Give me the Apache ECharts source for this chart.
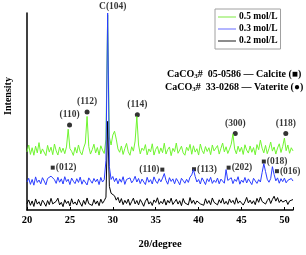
<!DOCTYPE html>
<html><head><meta charset="utf-8">
<script src="https://cdn.jsdelivr.net/npm/echarts@6/dist/echarts.min.js"></script>
<style>html,body{margin:0;padding:0;background:#fff}#c{width:306px;height:255px}</style>
</head><body><div id="c"></div>
<script>
// sampling grid: 20.0 .. 51.0 deg, step 0.2
const thetaStart = 20, thetaStep = 0.2, nPts = 156;
const seriesNames = ['0.5 mol/L', '0.3 mol/L', '0.2 mol/L'];
const black02 = [
3.2,5.1,2.4,4.6,1.8,5.6,3.0,4.2,2.1,5.0,
3.6,1.9,4.8,2.7,5.9,3.1,2.2,4.4,6.0,2.6,
3.9,1.7,5.2,3.3,4.5,2.0,5.7,3.0,4.1,2.5,
5.4,3.5,1.9,4.9,2.8,6.1,3.2,4.0,2.3,5.3,
3.0,4.6,2.2,5.5,3.4,4.7,6.5,45,12,8.5,
9.0,7.2,5.0,6.4,3.6,5.8,2.7,4.9,3.3,5.5,
2.4,4.3,6.0,3.1,4.8,2.6,5.3,3.7,1.9,4.5,
5.9,3.0,4.2,2.3,5.1,3.8,6.2,2.9,4.4,3.2,
5.6,2.5,4.9,3.5,6.0,2.8,4.1,5.4,3.0,4.7,
2.2,5.8,3.6,4.3,2.6,6.3,3.4,5.0,2.9,4.6,
5.5,3.1,4.0,2.4,5.7,3.3,4.8,2.7,6.1,3.9,
4.5,2.6,5.2,3.5,6.0,3.0,4.4,2.8,5.6,3.7,
4.9,2.9,6.2,3.4,4.6,5.5,2.5,4.2,6.4,3.6,
5.0,3.2,4.7,2.7,5.9,3.9,6.6,4.3,5.1,3.0,
4.8,6.0,3.3,5.4,7.0,4.5,6.3,3.8,5.2,4.0,
3.5,5.0,2.8,4.6,3.9,5.3];
const blue03 = [
14.2,16.1,13.0,15.5,12.6,16.8,14.0,15.2,13.3,16.4,
14.7,12.8,16.0,15.0,17.2,18.0,15.4,13.5,16.6,14.1,
15.8,13.2,16.9,14.4,15.6,12.9,16.2,14.6,13.4,15.9,
14.0,16.7,13.1,15.3,14.5,12.7,16.3,14.9,13.6,16.0,
14.3,15.7,12.9,16.5,14.2,15.4,25,100,22,15.5,
17.0,14.4,16.2,13.3,15.8,14.1,16.9,13.0,15.5,14.6,
16.3,13.8,15.0,17.1,14.2,16.0,13.4,15.7,14.8,12.9,
16.6,14.1,15.4,13.2,16.8,14.7,13.5,15.9,14.3,16.2,
18.5,15.0,13.1,16.4,14.5,15.8,13.3,16.0,14.6,12.8,
16.1,14.9,13.6,15.6,14.0,16.7,17.8,20.5,17.0,14.2,
15.5,13.2,16.3,14.7,12.9,15.9,14.4,16.6,13.5,15.1,
14.0,16.2,13.3,15.7,14.8,13.6,20.5,15.0,14.2,16.4,
13.4,15.6,14.5,16.9,13.1,15.2,14.0,16.5,13.7,15.8,
14.3,12.9,16.1,14.8,13.5,15.4,14.2,19.0,23.5,19.5,
15.6,14.1,16.0,22.0,18.0,14.8,16.3,13.6,15.9,14.4,
16.2,13.8,15.1,14.5,16.0,14.7];
const green05 = [
29.5,33.0,28.2,31.6,27.8,32.4,29.0,34.2,28.5,31.0,
30.2,27.6,32.8,29.4,31.9,28.1,33.5,30.0,27.9,32.0,
29.2,31.4,28.6,32.0,41.0,31.2,29.8,27.7,31.8,28.9,
33.0,29.5,28.0,31.5,34.0,47.5,32.2,28.4,30.6,33.4,
29.0,31.7,27.9,32.6,30.4,28.7,36.0,99,37.0,33.0,
38.0,40.0,36.0,31.0,29.3,32.5,28.2,31.2,33.8,29.6,
27.8,32.1,29.9,35.0,47.5,33.0,28.5,31.4,30.2,33.2,
28.0,31.0,29.5,33.6,27.9,30.8,32.3,28.6,31.5,29.1,
33.9,28.4,30.7,32.0,27.6,31.3,29.6,34.0,28.8,30.5,
32.4,29.0,27.8,31.9,30.1,33.3,28.3,32.6,29.4,31.1,
27.9,33.5,30.3,28.6,32.2,29.7,31.6,28.1,33.0,30.0,
29.2,32.7,28.4,31.3,34.0,29.5,32.1,28.7,30.9,33.4,
38.5,31.0,28.5,32.4,29.6,31.9,28.2,33.1,30.4,28.9,
32.5,29.3,31.7,28.0,33.2,30.6,35.5,31.4,29.0,32.8,
28.6,31.2,34.5,29.9,32.0,28.4,31.5,33.6,29.2,32.3,
36.5,30.1,33.0,28.8,31.6,30.0];
// peak annotations
const vateriteLabels = ['(110)','(112)','(114)','(300)','(118)'];
const vateriteX = [24.96, 27.0, 32.86, 44.27, 50.16];
const vateriteY = [43.2, 49.8, 48.4, 38.8, 38.8];
const calciteLabels = ['(012)','(110)','(113)','(202)','(018)','(016)'];
const calciteX = [23.0, 35.77, 39.46, 43.5, 47.6, 49.13];
const calciteY = [21.5, 20.5, 20.7, 21.5, 24.6, 19.7];
const calciteSide = ['right','left','right','right','right','right'];
const mainPeakLabel = 'C(104)';
const mainPeakPos = [30.0, 103.5];
const xTicks = [20, 25, 30, 35, 40, 45, 50];

const theta = [];
for (let i = 0; i < nPts; i++) theta.push(+(thetaStart + i * thetaStep).toFixed(1));
const pairs = arr => arr.map((v, i) => [theta[i], v]);

const FONT = 'Liberation Serif';
const chart = echarts.init(document.getElementById('c'), null, {renderer: 'canvas'});
chart.setOption({
  animation: false,
  backgroundColor: '#fff',
  grid: {left: 27, right: 13, top: 13, bottom: 39},
  legend: {
    data: [
      {name: seriesNames[0], itemStyle: {color: '#a8f080'}},
      {name: seriesNames[1], itemStyle: {color: '#9a9cff'}},
      {name: seriesNames[2], itemStyle: {color: '#666666'}}
    ],
    orient: 'vertical', left: 215, top: 9,
    icon: 'rect', itemWidth: 18, itemHeight: 1.5, itemGap: 2,
    borderColor: '#a0a0a0', borderWidth: 1, padding: [3, 3, 3, 3],
    textStyle: {fontFamily: FONT, fontWeight: 'bold', fontSize: 9.5, color: '#000', padding: [0, 0, 0, -2]}
  },
  xAxis: {
    type: 'value', min: 20, max: 51, interval: 5,
    name: '2θ/degree', nameLocation: 'middle', nameGap: 29,
    nameTextStyle: {fontFamily: FONT, fontWeight: 'bold', fontSize: 10.5, color: '#000'},
    axisLine: {lineStyle: {color: '#000', width: 1.5}},
    axisTick: {inside: true, length: 3, lineStyle: {color: '#000'}},
    axisLabel: {fontFamily: FONT, fontWeight: 'bold', fontSize: 10.5, color: '#000', margin: 5,
      formatter: v => xTicks.indexOf(v) >= 0 ? String(v) : ''},
    splitLine: {show: false}
  },
  yAxis: {
    type: 'value', min: 0, max: 100,
    axisLine: {show: true, lineStyle: {color: '#000', width: 1.5}},
    axisTick: {show: false}, axisLabel: {show: false}, splitLine: {show: false}
  },
  graphic: [
    {type: 'text', x: 8, y: 96, rotation: Math.PI / 2,
      style: {text: 'Intensity', fontFamily: FONT, fontWeight: 'bold', fontSize: 10, fill: '#000', textAlign: 'center', textVerticalAlign: 'middle'}},
    {type: 'text', left: 167, top: 69,
      style: {text: '{a|CaCO}{s|3}{a|#  05-0586 — Calcite (■)}',
        rich: {a: {fontFamily: FONT, fontWeight: 'bold', fontSize: 10, fill: '#000'},
               s: {fontFamily: FONT, fontWeight: 'bold', fontSize: 7, fill: '#000', padding: [5, 0, 0, 0]}}}},
    {type: 'text', left: 165, top: 82,
      style: {text: '{a|CaCO}{s|3}{a|#  33-0268 — Vaterite (●)}',
        rich: {a: {fontFamily: FONT, fontWeight: 'bold', fontSize: 10, fill: '#000'},
               s: {fontFamily: FONT, fontWeight: 'bold', fontSize: 7, fill: '#000', padding: [5, 0, 0, 0]}}}}
  ],
  series: [
    {name: seriesNames[2], type: 'line', data: pairs(black02), showSymbol: false, symbol: 'none',
      lineStyle: {color: '#000', width: 1}, itemStyle: {color: '#000'}},
    {name: seriesNames[0], type: 'line', data: pairs(green05), showSymbol: false, symbol: 'none',
      lineStyle: {color: '#70f530', width: 1}, itemStyle: {color: '#70f530'}},
    {name: seriesNames[1], type: 'line', data: pairs(blue03), showSymbol: false, symbol: 'none',
      lineStyle: {color: '#2a3cff', width: 1}, itemStyle: {color: '#2a3cff'}},
    {type: 'scatter', clip: false, symbol: 'circle', symbolSize: 5, silent: true,
      itemStyle: {color: '#000'},
      data: vateriteX.map((x, i) => ({value: [x, vateriteY[i]], label: {formatter: vateriteLabels[i]}})),
      label: {show: true, position: 'top', distance: 3, fontFamily: FONT, fontWeight: 'bold', fontSize: 9.5, color: '#000'}},
    {type: 'scatter', clip: false, symbol: 'rect', symbolSize: 4, silent: true,
      itemStyle: {color: '#000'},
      data: calciteX.map((x, i) => ({value: [x, calciteY[i]], label: {formatter: calciteLabels[i], position: calciteSide[i]}})),
      label: {show: true, distance: 1, fontFamily: FONT, fontWeight: 'bold', fontSize: 9.5, color: '#000'}},
    {type: 'scatter', clip: false, symbolSize: 0, silent: true,
      data: [{value: mainPeakPos, label: {formatter: mainPeakLabel}}],
      label: {show: true, position: 'inside', fontFamily: FONT, fontWeight: 'bold', fontSize: 9.5, color: '#000'}}
  ]
});
</script></body></html>
